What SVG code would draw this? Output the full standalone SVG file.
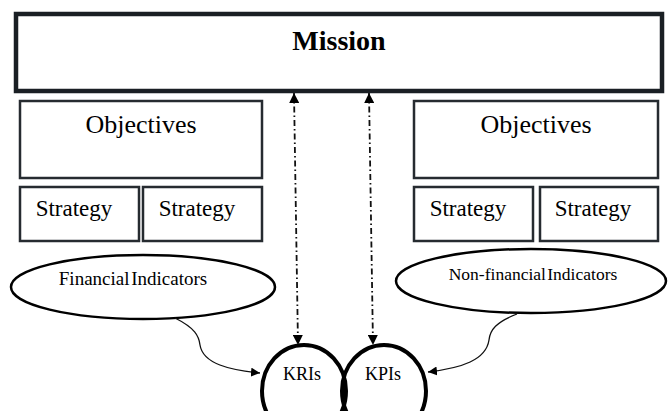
<svg xmlns="http://www.w3.org/2000/svg" width="668" height="411" viewBox="0 0 668 411">
<defs>
<style>
.box{fill:#fff;stroke:#262b30;stroke-width:2.5}
.mission{fill:#fff;stroke:#1a1f24;stroke-width:4.5}
.ell{fill:#fff;stroke:#000;stroke-width:2.5}
.circ{fill:none;stroke:#000;stroke-width:4}
.t{font-family:"Liberation Serif","Times New Roman",serif;fill:#000;text-anchor:middle}
.dd{fill:none;stroke:#111;stroke-width:1.8;stroke-dasharray:6 3 1.5 3}
.cv{fill:none;stroke:#111;stroke-width:1.3}
</style>
<marker id="ah" viewBox="0 0 10 10" refX="10" refY="5" markerWidth="10" markerHeight="10" markerUnits="userSpaceOnUse" orient="auto-start-reverse">
<path d="M0,0 L10,5 L0,10 z" fill="#000"/>
</marker>
<marker id="ah2" viewBox="0 0 10 10" refX="10" refY="5" markerWidth="9" markerHeight="9" markerUnits="userSpaceOnUse" orient="auto">
<path d="M0,0 L10,5 L0,10 z" fill="#000"/>
</marker>
</defs>
<rect width="668" height="411" fill="#fff"/>
<g id="mission">
<rect class="mission" x="16" y="14" width="646" height="77"/>
<text class="t" x="339" y="50" font-size="28" font-weight="bold">Mission</text>
</g>
<g id="objectives-left">
<rect class="box" x="20" y="101" width="242" height="77"/>
<text class="t" x="141" y="133" font-size="26">Objectives</text>
</g>
<g id="strategy-left-1">
<rect class="box" x="20" y="187" width="119" height="54"/>
<text class="t" x="74" y="216" font-size="23">Strategy</text>
</g>
<g id="strategy-left-2">
<rect class="box" x="143" y="187" width="119" height="54"/>
<text class="t" x="197" y="216" font-size="23">Strategy</text>
</g>
<g id="objectives-right">
<rect class="box" x="414" y="101" width="244" height="77"/>
<text class="t" x="536" y="133" font-size="26">Objectives</text>
</g>
<g id="strategy-right-1">
<rect class="box" x="414" y="187" width="119" height="54"/>
<text class="t" x="468" y="216" font-size="23">Strategy</text>
</g>
<g id="strategy-right-2">
<rect class="box" x="540" y="187" width="118" height="54"/>
<text class="t" x="593" y="216" font-size="23">Strategy</text>
</g>
<g id="financial">
<ellipse class="ell" cx="143" cy="287" rx="132" ry="32"/>
<text class="t" x="133" y="285" font-size="19" word-spacing="-3">Financial Indicators</text>
</g>
<g id="nonfinancial">
<ellipse class="ell" cx="531" cy="281" rx="135" ry="32"/>
<text class="t" x="533" y="280" font-size="17.5" word-spacing="-3">Non-financial Indicators</text>
</g>
<g id="kris">
<ellipse class="circ" cx="304" cy="391" rx="42" ry="46"/>
<text class="t" x="302" y="380" font-size="18">KRIs</text>
</g>
<g id="kpis">
<ellipse class="circ" cx="384" cy="391" rx="42" ry="46"/>
<text class="t" x="383" y="380" font-size="18">KPIs</text>
</g>
<g id="connectors">
<line class="dd" x1="294" y1="93" x2="298" y2="345" marker-start="url(#ah)" marker-end="url(#ah)"/>
<line class="dd" x1="369" y1="93" x2="373" y2="345" marker-start="url(#ah)" marker-end="url(#ah)"/>
<path class="cv" d="M175,318 C195,328 199,336 200,345 C203,364 230,370 260,373" marker-end="url(#ah2)"/>
<path class="cv" d="M517,314 C496,322 490,330 489,340 C486,360 462,368 428,372" marker-end="url(#ah2)"/>
</g>
</svg>
